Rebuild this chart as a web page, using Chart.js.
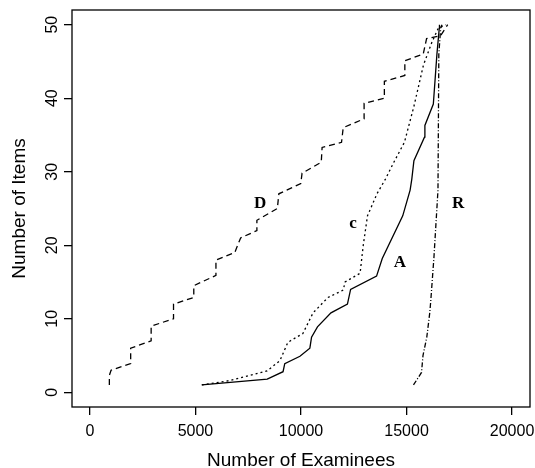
<!DOCTYPE html>
<html>
<head>
<meta charset="utf-8">
<script src="https://cdn.jsdelivr.net/npm/chart.js@4.4.0/dist/chart.umd.min.js"></script>
<style>
  html, body { margin: 0; padding: 0; background: #fff; }
</style>
</head>
<body>
<canvas id="chart" width="535" height="468"></canvas>
<script>
// D curve (dashed)
const dX = [920, 920, 1000, 1930, 1930, 2900, 2900, 3960, 3960, 4920, 4920, 5970, 5970, 6860, 7140, 7910, 7910, 8880, 8950, 9990, 10050, 10960, 11000, 11920, 12000, 12990, 12990, 13950, 13950, 14920, 14920, 15790, 15950, 16610, 16950];
const dY = [1, 2.3, 3, 3.9, 6, 7, 9, 10, 12, 12.9, 14.5, 15.9, 18, 19, 21, 22, 23.4, 25, 27, 28.4, 29.8, 31.3, 33.3, 34, 36, 37.2, 39.3, 40, 42.3, 43.1, 45.1, 46, 48.1, 48.5, 50];

// c curve (dotted)
const cX = [5300, 6630, 8390, 9000, 9380, 10090, 10570, 11280, 12000, 12090, 12800, 12950, 13150, 13600, 14000, 14400, 14900, 15350, 15800, 16200, 16500, 16850];
const cY = [1, 1.6, 2.9, 4.3, 6.8, 8, 10.8, 12.9, 13.9, 15, 16.2, 20, 24, 27, 29, 31.3, 34, 38.9, 44.5, 47.6, 49.5, 50];

// A curve (solid)
const aX = [5300, 8400, 9150, 9230, 9950, 10420, 10500, 10780, 11420, 12200, 12350, 13580, 13850, 14820, 15170, 15250, 15350, 15850, 15870, 16270, 16440, 16550, 16560];
const aY = [1, 1.8, 2.8, 3.9, 4.9, 6, 7.5, 8.9, 10.8, 12, 14, 15.8, 18.2, 24, 27.5, 29, 31.5, 34.7, 36.3, 39.2, 46, 49.5, 50];

// R curve (dash-dot)
const rX = [15330, 15710, 15780, 15960, 16100, 16150, 16300, 16490, 16530, 16620, 16680];
const rY = [1, 2.7, 5, 7.5, 10.8, 12.5, 18.4, 27.5, 46, 49.6, 50];

// curve names written on the plot
const curveNames = ['D', 'c', 'A', 'R'];
const nameX = [8060, 12460, 14690, 17440];
const nameY = [25.7, 23.0, 17.7, 25.7];

const xTicks = [0, 5000, 10000, 15000, 20000];
const xTickLabels = ['0', '5000', '10000', '15000', '20000'];
const yTicks = [0, 10, 20, 30, 40, 50];
const yTickLabels = ['0', '10', '20', '30', '40', '50'];

function pts(xs, ys) {
    return xs.map((v, i) => ({ x: v, y: ys[i] }));
}

const boxAndNames = {
    id: 'boxAndNames',
    afterDatasetsDraw(chart) {
        const { ctx, chartArea: a, scales: { x, y } } = chart;
        ctx.save();
        ctx.strokeStyle = '#000';
        ctx.lineWidth = 1.3;
        ctx.strokeRect(a.left, a.top, a.right - a.left, a.bottom - a.top);
        ctx.fillStyle = '#000';
        ctx.font = 'bold 17px "Liberation Serif"';
        ctx.textAlign = 'center';
        ctx.textBaseline = 'middle';
        curveNames.forEach((t, i) => {
            ctx.fillText(t, x.getPixelForValue(nameX[i]), y.getPixelForValue(nameY[i]));
        });
        ctx.restore();
    }
};

const line = (data, dash) => ({
    data: data,
    showLine: true,
    borderColor: '#000',
    borderWidth: 1.3,
    borderDash: dash,
    pointRadius: 0,
    tension: 0,
    fill: false
});

const tickFont = { family: '"Liberation Sans", Arial, sans-serif', size: 16 };
const titleFont = { family: '"Liberation Sans", Arial, sans-serif', size: 19, lineHeight: 0.8 };

new Chart(document.getElementById('chart').getContext('2d'), {
    type: 'scatter',
    data: {
        datasets: [
            line(pts(dX, dY), [6, 4]),
            line(pts(cX, cY), [2, 3]),
            line(pts(aX, aY), []),
            line(pts(rX, rY), [5, 2, 1, 2])
        ]
    },
    options: {
        responsive: false,
        animation: false,
        layout: { padding: { top: 10, right: 5, left: 0, bottom: 0 } },
        plugins: { legend: { display: false }, tooltip: { enabled: false } },
        scales: {
            x: {
                type: 'linear',
                min: -850,
                max: 20850,
                afterBuildTicks: s => { s.ticks = xTicks.map(v => ({ value: v })); },
                afterFit: s => { s.height = 61; s.paddingLeft = 0; s.paddingRight = 0; },
                grid: { drawOnChartArea: false, drawTicks: true, tickLength: 8, color: '#000', lineWidth: 1.3 },
                border: { display: false },
                ticks: {
                    font: tickFont, color: '#000', padding: 7, maxRotation: 0, autoSkip: false,
                    callback: (v, i) => xTickLabels[i]
                },
                title: { display: true, text: 'Number of Examinees', font: titleFont, color: '#000', padding: 0 }
            },
            y: {
                type: 'linear',
                min: -2,
                max: 52,
                afterBuildTicks: s => { s.ticks = yTicks.map(v => ({ value: v })); },
                afterFit: s => { s.width = 72; s.paddingTop = 0; s.paddingBottom = 0; },
                grid: { drawOnChartArea: false, drawTicks: true, tickLength: 8, color: '#000', lineWidth: 1.3 },
                border: { display: false },
                ticks: {
                    font: tickFont, color: '#000', padding: 3, minRotation: 90, maxRotation: 90, crossAlign: 'center', autoSkip: false,
                    callback: (v, i) => yTickLabels[i]
                },
                title: { display: true, text: 'Number of Items', font: titleFont, color: '#000', padding: { top: 12, bottom: 0 } }
            }
        }
    },
    plugins: [boxAndNames]
});
</script>
</body>
</html>
